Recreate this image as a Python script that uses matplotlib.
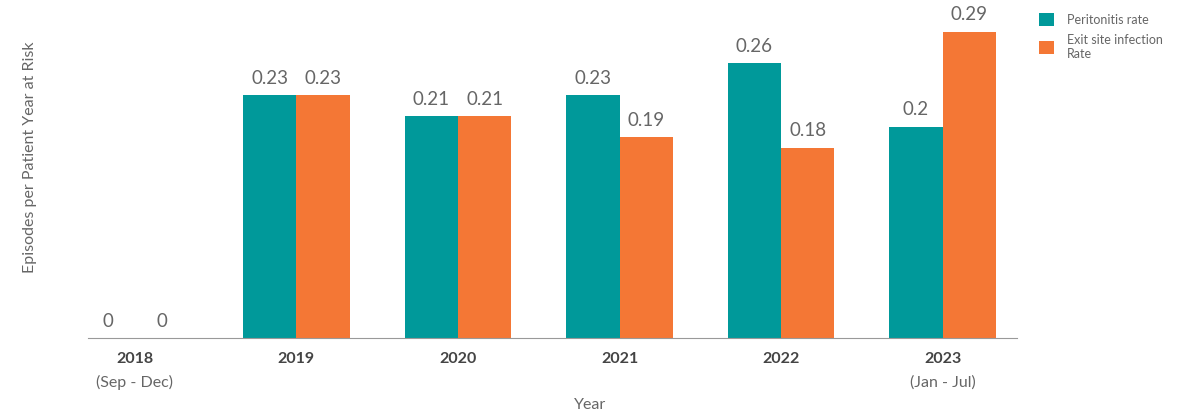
import numpy as np
import matplotlib.pyplot as plt

years = ['2018', '2019', '2020', '2021', '2022', '2023']
sub_labels = ['(Sep - Dec)', '', '', '', '', '(Jan - Jul)']
peritonitis = [0, 0.23, 0.21, 0.23, 0.26, 0.20]
exit_site = [0, 0.23, 0.21, 0.19, 0.18, 0.29]

TEAL = '#00999A'
ORANGE = '#F47735'

plt.rcParams['font.family'] = ['Lato', 'DejaVu Sans']

fig = plt.figure(figsize=(11.85, 4.16), dpi=100)
ax = fig.add_axes([88 / 1185, 1 - 338 / 416, (1017 - 88) / 1185, (338 - 21) / 416])

x = np.arange(len(years))
w = 0.33
b1 = ax.bar(x - w / 2, peritonitis, w, color=TEAL, label='Peritonitis rate')
b2 = ax.bar(x + w / 2, exit_site, w, color=ORANGE, label='Exit site infection\nRate')

for bars, vals in [(b1, peritonitis), (b2, exit_site)]:
    for r, v in zip(bars, vals):
        ax.text(r.get_x() + r.get_width() / 2, v + 0.008, f'{v:g}',
                ha='center', va='bottom', fontsize=13.5, color='#666666')

ax.set_xlim(-0.29, 5.46)
ax.set_ylim(0, 0.3)
ax.set_yticks([])
ax.set_xticks(x)
ax.set_xticklabels(years, fontsize=11.5, fontweight='bold', color='#444444')
ax.tick_params(axis='x', length=0, pad=10)
for xi, s in zip(x, sub_labels):
    if s:
        ax.text(xi, -0.14, s, transform=ax.get_xaxis_transform(), ha='center',
                va='center', fontsize=11.5, color='#666666')
for sp in ['top', 'right', 'left']:
    ax.spines[sp].set_visible(False)
ax.spines['bottom'].set_color('#999999')

fig.text(590 / 1185, 1 - 405 / 416, 'Year', ha='center', va='center',
         fontsize=11.5, color='#666666')
fig.text(30 / 1185, 1 - 157 / 416, 'Episodes per Patient Year at Risk', rotation=90,
         ha='center', va='center', fontsize=11.5, color='#666666')

fig.legend(loc='upper left', bbox_to_anchor=(1028 / 1185, 1 - 2 / 416), frameon=False,
           fontsize=9, labelcolor='#666666', handlelength=1.2, handleheight=1.2,
           handletextpad=1.0, labelspacing=0.6)

fig.savefig('out.png', dpi=100)
